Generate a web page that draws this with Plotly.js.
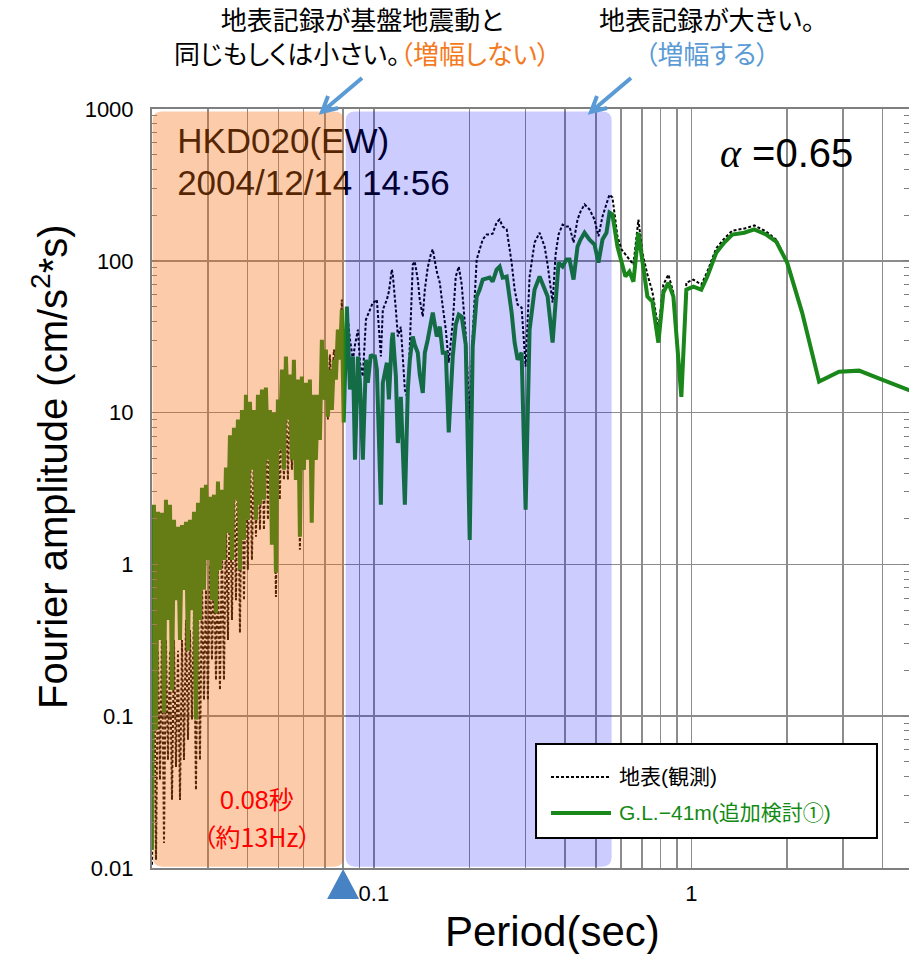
<!DOCTYPE html>
<html>
<head>
<meta charset="utf-8">
<script src="https://cdn.plot.ly/plotly-3.0.1.min.js"></script>
<style>
  html, body { margin: 0; padding: 0; background: #fff; }
  #chart { width: 909px; height: 954px; }
  svg text { font-feature-settings: "palt" 1; }
</style>
</head>
<body>
<div id="chart"></div>
<script>
// Fourier amplitude spectra, HKD020 (EW), 2004/12/14 14:56
const periodSec = [
  0.02000, 0.02029, 0.02059, 0.02089, 0.02119, 0.02150, 0.02182, 0.02213, 0.02246, 0.02279,
  0.02312, 0.02346, 0.02380, 0.02415, 0.02450, 0.02486, 0.02522, 0.02559, 0.02596, 0.02634,
  0.02673, 0.02712, 0.02751, 0.02792, 0.02832, 0.02874, 0.02916, 0.02958, 0.03000, 0.03045,
  0.03090, 0.03135, 0.03181, 0.03227, 0.03274, 0.03322, 0.03371, 0.03420, 0.03470, 0.03521,
  0.03572, 0.03624, 0.03677, 0.03731, 0.03785, 0.03841, 0.03897, 0.03954, 0.04008, 0.04070,
  0.04129, 0.04190, 0.04251, 0.04313, 0.04376, 0.04440, 0.04504, 0.04570, 0.04637, 0.04705,
  0.04773, 0.04843, 0.04914, 0.04985, 0.05054, 0.05132, 0.05207, 0.05283, 0.05360, 0.05438,
  0.05518, 0.05598, 0.05680, 0.05763, 0.05847, 0.05932, 0.06019, 0.06107, 0.06196, 0.06286,
  0.06371, 0.06471, 0.06566, 0.06662, 0.06759, 0.06858, 0.06958, 0.07059, 0.07162, 0.07267,
  0.07373, 0.07481, 0.07590, 0.07701, 0.07813, 0.07927, 0.08034,
  0.0822, 0.0841, 0.0859, 0.0872, 0.0891, 0.0904, 0.0923, 0.0944, 0.0957, 0.0978,
  0.0993, 0.1007, 0.1022, 0.1052, 0.1067, 0.1099, 0.1115, 0.1139, 0.1147, 0.1173,
  0.1190, 0.1216, 0.1252, 0.1279, 0.1298, 0.1326, 0.1345, 0.1375, 0.1395, 0.1426,
  0.1447, 0.1478, 0.1511, 0.1533, 0.1578, 0.1613, 0.1648, 0.1685, 0.1721, 0.1772,
  0.1811, 0.1851, 0.1891, 0.1947, 0.2004, 0.2048, 0.2108, 0.2154, 0.2202, 0.2266,
  0.2316, 0.2367, 0.2436, 0.2490, 0.2545, 0.2620, 0.2716, 0.2776, 0.2837, 0.2920,
  0.3006, 0.3094, 0.3208, 0.3327, 0.3450, 0.3526, 0.3656, 0.3736, 0.3818, 0.3930,
  0.4045, 0.4134, 0.4256, 0.4381, 0.4477, 0.4609, 0.4778, 0.4955, 0.5100, 0.5250,
  0.5404, 0.5523, 0.5644, 0.5852, 0.6024, 0.6201, 0.6383, 0.6571, 0.6813, 0.7013,
  0.7272, 0.7540, 0.7874, 0.8165, 0.8467, 0.8779, 0.9302, 0.9645, 1.015, 1.075,
  1.123, 1.198, 1.270, 1.346, 1.468, 1.578, 1.721, 1.851, 2.004, 2.234,
  2.526, 2.920, 3.376, 3.987, 4.813, 5.0
];

// 地表(観測) : surface record
const surfaceAmp = [
  0.0105, 0.318, 0.0113, 0.27, 0.038, 0.37, 0.0146, 0.318, 0.0515, 0.27,
  0.0281, 0.318, 0.0463, 0.27, 0.0281, 0.318, 0.0515, 0.431, 0.070, 0.37,
  0.095, 0.50, 0.0327, 0.58, 0.0515, 0.79, 0.128, 0.68, 0.128, 0.99,
  0.235, 1.07, 0.173, 0.92, 0.149, 1.35, 0.173, 1.97, 0.318, 3.6,
  0.431, 4.2, 0.58, 4.9, 0.354, 5.3, 0.58, 5.7, 0.92, 6.6,
  1.07, 6.1, 1.52, 7.7, 1.69, 9.0, 1.69, 9.0, 1.97, 8.3,
  1.45, 6.6, 0.61, 9.0, 2.67, 12.2, 3.6, 13.1, 3.6, 12.2,
  4.2, 12.2, 3.6, 13.1, 1.25, 12.2, 4.2, 12.2, 5.3, 13.1,
  2.67, 10.4, 4.9, 10.4, 6.6, 22.3, 12.2, 22.3, 9.0, 24.1,
  12.2, 26.0, 22.3, 30.2, 26.0, 55.5, 16.5,
  47.7, 30.2, 22.3, 28.0, 35.2, 21.3, 17.3, 41.0, 44.2, 49.9,
  53.1, 53.8, 55.5, 23.4, 47.7, 55.5, 62.7, 87.5, 81.1, 47.7,
  31.7, 36.8, 14.2, 12.2, 28.9, 94.4, 98.8, 75.2, 55.5, 42.9,
  64.6, 90.2, 110, 119, 84.9, 71.8, 49.9, 35.2, 21.3, 39.2,
  78.7, 91.6, 69.7, 32.6, 9.0, 32.6, 102, 119, 138, 149,
  149, 151, 179, 187, 168, 161, 97.3, 64.6, 51.4, 49.2,
  20.1, 78.7, 132, 153, 124, 94.4, 53.1, 110, 149, 173,
  168, 168, 132, 187, 211, 235, 218, 187, 145, 196,
  242, 273, 261, 145, 119, 110, 102, 94.4, 187, 113,
  81.1, 62.7, 35.2, 69.7, 81.1, 61.7, 13.5, 71.8, 75.2, 69.7,
  84.9, 121, 140, 158, 163, 171, 156, 138, 98.8, 45.6,
  16.0, 18.6, 18.9, 16.5, 14.2, 13.7
];

// G.L.-41m(追加検討①) : estimate at depth
const gl41Amp = [
  0.0132, 2.47, 0.0813, 2.22, 0.318, 2.19, 0.105, 2.67, 0.431, 2.47,
  0.149, 1.97, 0.58, 1.77, 0.318, 1.82, 0.68, 1.91, 0.27, 1.97,
  0.50, 2.22, 0.095, 2.55, 0.431, 3.20, 0.68, 3.35, 1.07, 2.79,
  0.58, 2.88, 0.48, 3.51, 0.92, 3.1, 1.07, 4.34, 1.61, 7.1,
  1.07, 7.95, 2.67, 9.0, 0.92, 10.4, 1.45, 13.1, 1.97, 11.8,
  4.2, 10.4, 1.97, 13.1, 2.47, 14.2, 2.67, 14.6, 4.9, 10.4,
  1.35, 10.0, 0.88, 12.2, 5.7, 19.2, 4.2, 23.4, 9.0, 17.8,
  4.9, 22.3, 3.6, 16.5, 1.52, 17.3, 4.2, 15.7, 4.9, 16.5,
  1.88, 13.1, 4.9, 13.1, 6.6, 30.2, 12.2, 26.0, 9.4, 19.2,
  10.4, 22.3, 16.5, 35.2, 22.3, 47.7, 8.6,
  49.9, 14.2, 23.4, 4.9, 23.4, 15.7, 4.9, 22.3, 15.7, 24.1,
  23.4, 23.4, 19.2, 2.47, 15.7, 21.3, 12.2, 30.2, 33.6, 17.3,
  6.3, 12.7, 2.47, 14.2, 22.3, 31.7, 28.0, 24.8, 17.8, 13.5,
  24.8, 30.2, 41.0, 45.6, 31.7, 36.8, 24.8, 24.8, 7.4, 23.4,
  38.0, 44.2, 42.9, 28.0, 1.45, 27.2, 58.1, 64.6, 75.2, 76.3,
  77.5, 72.9, 87.5, 91.6, 77.5, 78.7, 45.6, 28.9, 22.3, 24.8,
  2.29, 35.2, 64.6, 78.7, 64.6, 58.1, 28.9, 49.9, 97.3, 91.6,
  102, 102, 75.2, 124, 138, 153, 138, 128, 97.3, 138,
  153, 208, 202, 124, 97.3, 78.7, 84.9, 72.9, 153, 97.3,
  58.1, 53.8, 28.9, 61.7, 71.8, 58.1, 12.7, 64.6, 67.6, 64.6,
  78.7, 113, 132, 149, 153, 161, 149, 134, 97.3, 45.6,
  16.0, 18.6, 18.9, 16.5, 14.2, 13.7
];

const yTickVals = [0.01, 0.1, 1, 10, 100, 1000];
const yTickText = ['0.01', '0.1', '1', '10', '100', '1000'];
const xTickVals = [0.1, 1];
const xTickText = ['0.1', '1'];

const seriesNames = ['地表(観測)', 'G.L.−41m(追加検討①)'];
const stationLines = ['HKD020(EW)', '2004/12/14 14:56'];

const SANS = 'Liberation Sans, Arial, "Noto Sans CJK JP", sans-serif';
const JP = '"Noto Sans CJK JP", "Liberation Sans", sans-serif';
const GRID = '#8c8c8c';
const AXIS = '#7f7f7f';
const GREEN = 'rgb(25,135,25)';
const ARROW = '#5b9bd5';

// rounded rectangle in data coordinates of the log-log axes
function roundedBox(x0, x1, y0, y1) {
  const fx = Math.pow(10, 0.03), fy = Math.pow(10, 0.06);
  return 'M' + (x0 * fx) + ',' + y0 +
    ' L' + (x1 / fx) + ',' + y0 +
    ' Q' + x1 + ',' + y0 + ' ' + x1 + ',' + (y0 * fy) +
    ' L' + x1 + ',' + (y1 / fy) +
    ' Q' + x1 + ',' + y1 + ' ' + (x1 / fx) + ',' + y1 +
    ' L' + (x0 * fx) + ',' + y1 +
    ' Q' + x0 + ',' + y1 + ' ' + x0 + ',' + (y1 / fy) +
    ' L' + x0 + ',' + (y0 * fy) +
    ' Q' + x0 + ',' + y0 + ' ' + (x0 * fx) + ',' + y0 + ' Z';
}

// call-out arrow pointing down-left, drawn in pixels from its tip
function calloutArrow(tipX, tipY) {
  return {
    type: 'path', xref: 'paper', yref: 'paper', layer: 'above',
    xsizemode: 'pixel', xanchor: tipX, ysizemode: 'pixel', yanchor: tipY,
    path: 'M40,34 L1,1 M6,16 L0,0 L16,4',
    line: { color: ARROW, width: 4 }
  };
}

const traces = [
  {
    type: 'scatter', mode: 'lines',
    x: periodSec, y: surfaceAmp,
    name: seriesNames[0],
    line: { color: '#000', width: 2, dash: '3px,2px' },
    hoverinfo: 'skip'
  },
  {
    type: 'scatter', mode: 'lines',
    x: periodSec, y: gl41Amp,
    name: seriesNames[1],
    line: { color: GREEN, width: 4 },
    hoverinfo: 'skip'
  },
  {
    type: 'scatter', mode: 'text',
    x: [0.0240, 0.0240], y: [583, 308],
    text: stationLines,
    textposition: 'middle right',
    textfont: { family: SANS, size: 35, color: '#000' },
    showlegend: false, cliponaxis: false, hoverinfo: 'skip'
  }
];

// legend box geometry (paper units)
const LG = { x0: 0.5073, x1: 0.9577, y0: 0.0395, y1: 0.1634,
             lx0: 0.5271, lx1: 0.6063, tx: 0.6143, row1: 0.1199, row2: 0.0725 };

const layout = {
  width: 909, height: 954,
  margin: { l: 152, r: 0, t: 109, b: 86 },
  paper_bgcolor: '#fff', plot_bgcolor: '#fff',
  font: { family: SANS, color: '#000' },
  showlegend: false,
  xaxis: {
    type: 'log',
    range: [Math.log10(0.02), Math.log10(4.85)],
    tickmode: 'array', tickvals: xTickVals, ticktext: xTickText,
    ticks: '', showgrid: true, gridcolor: GRID, gridwidth: 1.6,
    showline: true, linecolor: AXIS, linewidth: 2, mirror: true,
    zeroline: false,
    tickfont: { family: SANS, size: 22, color: '#000' },
    ticklabelstandoff: 5,
    minor: { dtick: 'D1', showgrid: true, gridcolor: GRID, gridwidth: 1.6, ticks: '' }
  },
  yaxis: {
    type: 'log',
    range: [-2, 3],
    tickmode: 'array', tickvals: yTickVals, ticktext: yTickText,
    ticks: 'inside', ticklen: 6, tickcolor: AXIS,
    showgrid: true, gridcolor: GRID, gridwidth: 1.6,
    showline: true, linecolor: AXIS, linewidth: 2, mirror: 'allticks',
    zeroline: false,
    tickfont: { family: SANS, size: 22, color: '#000' },
    ticklabelstandoff: 12,
    minor: { dtick: 'D1', ticks: 'inside', ticklen: 5, tickcolor: AXIS, showgrid: false }
  },
  shapes: [
    { type: 'path', xref: 'x', yref: 'y', layer: 'above',
      path: roundedBox(0.0201, 0.0803, 0.0102, 963),
      fillcolor: 'rgb(244,107,12)', opacity: 0.35, line: { width: 0 } },
    { type: 'path', xref: 'x', yref: 'y', layer: 'above',
      path: roundedBox(0.0815, 0.561, 0.0102, 963),
      fillcolor: 'rgb(0,0,255)', opacity: 0.2, line: { width: 0 } },
    { type: 'path', xref: 'x', yref: 'paper', layer: 'above',
      xsizemode: 'pixel', xanchor: 0.08, ysizemode: 'pixel', yanchor: 0,
      path: 'M-16,-31 L16,-31 L0,-1 Z',
      fillcolor: '#4682c4', line: { width: 0 } },
    calloutArrow(0.2246, 0.9961),
    calloutArrow(0.5799, 0.9961),
    // legend
    { type: 'rect', xref: 'paper', yref: 'paper', layer: 'above',
      x0: LG.x0, x1: LG.x1, y0: LG.y0, y1: LG.y1,
      fillcolor: '#fff', line: { color: '#000', width: 2 } },
    { type: 'line', xref: 'paper', yref: 'paper', layer: 'above',
      x0: LG.lx0, x1: LG.lx1, y0: LG.row1, y1: LG.row1,
      line: { color: '#000', width: 2, dash: '3px,2px' } },
    { type: 'line', xref: 'paper', yref: 'paper', layer: 'above',
      x0: LG.lx0, x1: LG.lx1, y0: LG.row2, y1: LG.row2,
      line: { color: GREEN, width: 4 } }
  ],
  annotations: [
    { xref: 'paper', yref: 'paper', x: 0.2780, y: 1.0962, xanchor: 'center', yanchor: 'middle',
      showarrow: false, align: 'center',
      text: '地表記録が基盤地震動と<br>同じもしくは小さい。<span style="color:#f47a22">（増幅しない）</span>',
      font: { family: JP, size: 26, color: '#000' } },
    { xref: 'paper', yref: 'paper', x: 0.7338, y: 1.0962, xanchor: 'center', yanchor: 'middle',
      showarrow: false, align: 'center',
      text: '地表記録が大きい。<br><span style="color:#5b9bd5">（増幅する）</span>',
      font: { family: JP, size: 26, color: '#000' } },
    { xref: 'paper', yref: 'paper', x: 0.748, y: 0.942, xanchor: 'left', yanchor: 'middle',
      showarrow: false,
      text: '<span style="font-family:Liberation Serif"><i>α</i></span> =0.65',
      font: { family: SANS, size: 40, color: '#000' } },
    { xref: 'paper', yref: 'paper', x: 0.1387, y: 0.0896, xanchor: 'center', yanchor: 'middle',
      showarrow: false, text: '0.08秒',
      font: { family: SANS, size: 25, color: '#ff0000' } },
    { xref: 'paper', yref: 'paper', x: 0.1387, y: 0.0422, xanchor: 'center', yanchor: 'middle',
      showarrow: false, text: '（約13Hz）',
      font: { family: JP, size: 25, color: '#ff0000' } },
    { xref: 'paper', yref: 'paper', x: LG.tx, y: LG.row1, xanchor: 'left', yanchor: 'middle',
      showarrow: false, text: seriesNames[0],
      font: { family: SANS, size: 21, color: '#000' } },
    { xref: 'paper', yref: 'paper', x: LG.tx, y: LG.row2, xanchor: 'left', yanchor: 'middle',
      showarrow: false, text: seriesNames[1],
      font: { family: SANS, size: 21, color: '#138a13' } },
    { xref: 'paper', yref: 'paper', x: -0.1347, y: 0.5283, xanchor: 'center', yanchor: 'middle',
      showarrow: false, textangle: -90,
      text: 'Fourier amplitude (cm/s<sup>2</sup>*s)',
      font: { family: SANS, size: 40, color: '#000' } },
    { xref: 'paper', yref: 'paper', x: 0.5297, y: -0.0843, xanchor: 'center', yanchor: 'middle',
      showarrow: false, text: 'Period(sec)',
      font: { family: SANS, size: 42, color: '#000' } }
  ]
};

Plotly.newPlot('chart', traces, layout, { staticPlot: true, displayModeBar: false });
</script>
</body>
</html>
